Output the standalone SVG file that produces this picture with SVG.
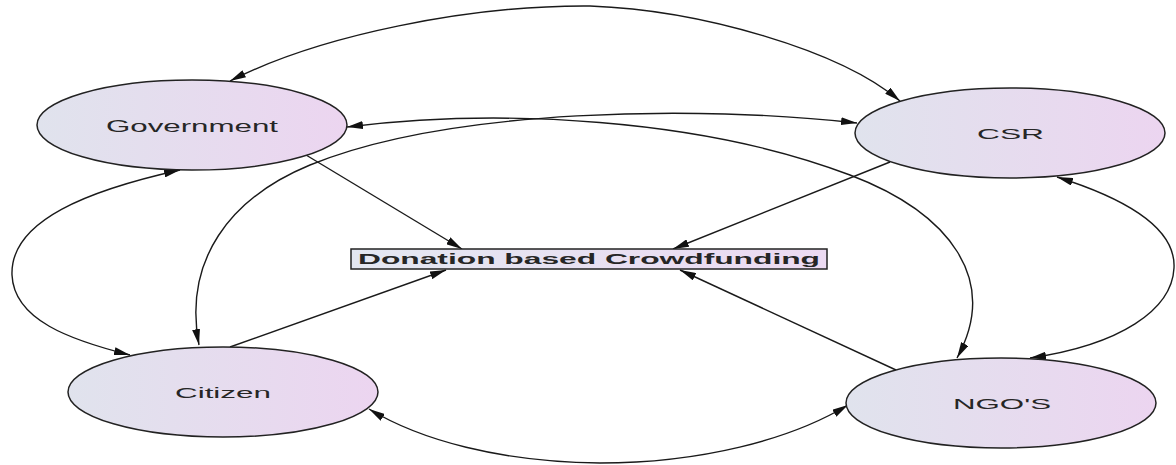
<svg xmlns="http://www.w3.org/2000/svg" width="1176" height="465" viewBox="0 0 1176 465">
<defs>
<linearGradient id="g" x1="0" y1="0" x2="1" y2="0">
<stop offset="0" stop-color="#e0e3ed"/>
<stop offset="1" stop-color="#ecd5f0"/>
</linearGradient>
<linearGradient id="g2" x1="0" y1="0" x2="1" y2="0">
<stop offset="0" stop-color="#e3e7f1"/>
<stop offset="1" stop-color="#ecdaf2"/>
</linearGradient>
<marker id="ah" viewBox="0 0 16 8" refX="16" refY="4" markerWidth="16" markerHeight="8" markerUnits="userSpaceOnUse" orient="auto-start-reverse">
<path d="M0,0 L16,4 L0,8 z" fill="#111"/>
</marker>
</defs>
<style>
.node ellipse{fill:url(#g);stroke:#222;stroke-width:1.5}
.lbl{font-family:"Liberation Sans",Arial,sans-serif;fill:#262626}
.edge{fill:none;stroke:#1a1a1a;stroke-width:1.4}
.bi{marker-start:url(#ah);marker-end:url(#ah)}
.uni{marker-end:url(#ah)}
</style>
<rect width="1176" height="465" fill="#fff"/>
<g id="connectors">
<path class="edge bi" d="M230,81 C320,35 470,5 590,6 C700,10 840,50 900,101"/>
<path class="edge bi" d="M857,123 C700,105 450,108 310,165 C230,198 183,260 199,345"/>
<path class="edge bi" d="M347,127 C500,108 700,118 850,175 C950,213 1000,280 957,358"/>
<path class="edge bi" d="M180,170 C90,190 10,220 12,275 C14,320 70,340 130,355"/>
<path class="edge bi" d="M1057,177 C1130,200 1176,230 1174,268 C1172,310 1120,345 1030,358"/>
<path class="edge bi" d="M369,409 C420,440 500,462 600,463 C700,463 790,440 848,405"/>
<path class="edge uni" d="M306,155 L462,249"/>
<path class="edge uni" d="M890,162 L673,249"/>
<path class="edge uni" d="M230,347 L446,270"/>
<path class="edge uni" d="M896,370 L680,270"/>
</g>
<g id="government" class="node">
<ellipse cx="192" cy="125" rx="155" ry="45"/>
<text class="lbl" x="106" y="131.5" font-size="16" textLength="172" lengthAdjust="spacingAndGlyphs">Government</text>
</g>
<g id="csr" class="node">
<ellipse cx="1010" cy="133" rx="155" ry="45"/>
<text class="lbl" x="977" y="138.5" font-size="15.5" textLength="67" lengthAdjust="spacingAndGlyphs">CSR</text>
</g>
<g id="citizen" class="node">
<ellipse cx="223" cy="392" rx="155" ry="45"/>
<text class="lbl" x="175" y="397.5" font-size="15.5" textLength="96" lengthAdjust="spacingAndGlyphs">Citizen</text>
</g>
<g id="ngos" class="node">
<ellipse cx="1001" cy="403" rx="155" ry="45"/>
<text class="lbl" x="953" y="408.5" font-size="15.5" textLength="98" lengthAdjust="spacingAndGlyphs">NGO'S</text>
</g>
<g id="donation" class="node">
<rect x="351" y="249" width="476" height="20" fill="url(#g2)" stroke="#222" stroke-width="1.5"/>
<text class="lbl" x="358" y="264" font-size="14" font-weight="bold" textLength="462" lengthAdjust="spacingAndGlyphs">Donation based Crowdfunding</text>
</g>
</svg>
